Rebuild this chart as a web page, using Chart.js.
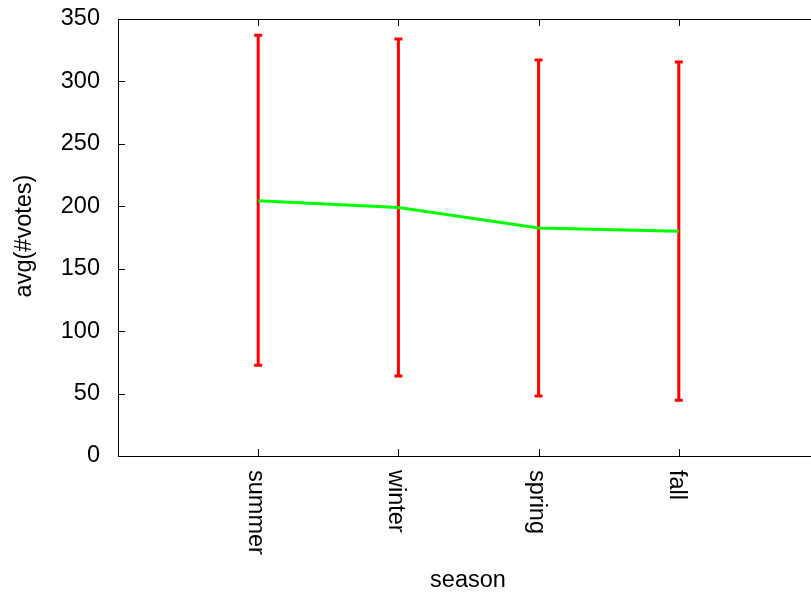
<!DOCTYPE html>
<html>
<head>
<meta charset="utf-8">
<script src="https://cdn.jsdelivr.net/npm/chart.js@4/dist/chart.umd.min.js"></script>
<style>
  html, body { margin: 0; padding: 0; background: #fff; overflow: hidden; }
  #wrap { width: 830px; height: 594px; }
</style>
</head>
<body>
<div id="wrap"><canvas id="votesChart" width="830" height="594"></canvas></div>
<script>
// average votes per season, with the spread shown as error bars
const seasons = ["summer", "winter", "spring", "fall"];
const avgVotes = [204.4, 199.1, 182.7, 180.1];
const votesLow = [72.7, 64.1, 48.1, 44.6];
const votesHigh = [336.9, 334.0, 317.1, 315.5];
const yTicks = [0, 50, 100, 150, 200, 250, 300, 350];

const FONT = '"Liberation Sans", Arial, Helvetica, sans-serif';
const FONT_SIZE = 23.5;

// red vertical bars with small caps, drawn under the mean line
const errorBars = {
  id: "errorBars",
  beforeDatasetsDraw(chart) {
    const { ctx, scales: { x, y } } = chart;
    ctx.save();
    ctx.strokeStyle = "#ff0000";
    ctx.lineWidth = 3;
    seasons.forEach((s, i) => {
      const px = x.getPixelForValue(i + 1);
      const lo = y.getPixelForValue(votesLow[i]);
      const hi = y.getPixelForValue(votesHigh[i]);
      ctx.beginPath();
      ctx.moveTo(px, lo);
      ctx.lineTo(px, hi);
      ctx.moveTo(px - 4, lo);
      ctx.lineTo(px + 4, lo);
      ctx.moveTo(px - 4, hi);
      ctx.lineTo(px + 4, hi);
      ctx.stroke();
    });
    ctx.restore();
  },
};

// box border, inward ticks, x labels and axis titles
const frame = {
  id: "frame",
  afterDraw(chart) {
    const { ctx, chartArea: a, scales: { x, y } } = chart;
    ctx.save();
    ctx.strokeStyle = "#000";
    ctx.lineWidth = 1;
    ctx.strokeRect(a.left + 0.5, a.top + 0.5, a.right - a.left, a.bottom - a.top);

    ctx.beginPath();
    yTicks.forEach((v) => {
      const py = Math.round(y.getPixelForValue(v)) + 0.5;
      ctx.moveTo(a.left, py);
      ctx.lineTo(a.left + 7, py);
      ctx.moveTo(a.right, py);
      ctx.lineTo(a.right - 7, py);
    });
    seasons.forEach((s, i) => {
      const px = Math.round(x.getPixelForValue(i + 1)) + 0.5;
      ctx.moveTo(px, a.bottom);
      ctx.lineTo(px, a.bottom - 7);
      ctx.moveTo(px, a.top);
      ctx.lineTo(px, a.top + 7);
    });
    ctx.stroke();

    ctx.fillStyle = "#000";
    ctx.font = FONT_SIZE + "px " + FONT;
    ctx.textBaseline = "alphabetic";
    ctx.textAlign = "left";
    seasons.forEach((s, i) => {
      const px = x.getPixelForValue(i + 1);
      ctx.save();
      ctx.translate(px, a.bottom + 14);
      ctx.rotate(Math.PI / 2);
      ctx.fillText(s, 0, 9);
      ctx.restore();
    });

    ctx.textAlign = "center";
    ctx.fillText("season", 468, 587);
    ctx.save();
    ctx.translate(31, 236);
    ctx.rotate(-Math.PI / 2);
    ctx.fillText("avg(#votes)", 0, 0);
    ctx.restore();
    ctx.restore();
  },
};

new Chart(document.getElementById("votesChart"), {
  type: "line",
  data: {
    datasets: [
      {
        label: "avg(#votes)",
        data: seasons.map((s, i) => ({ x: i + 1, y: avgVotes[i] })),
        borderColor: "#00ff00",
        borderWidth: 3,
        pointRadius: 0,
        tension: 0,
        fill: false,
      },
    ],
  },
  options: {
    responsive: false,
    animation: false,
    layout: { padding: { left: 0, top: 19, right: 11, bottom: 138 } },
    plugins: { legend: { display: false }, tooltip: { enabled: false } },
    scales: {
      x: {
        type: "linear",
        min: 0,
        max: 5,
        display: false,
      },
      y: {
        min: 0,
        max: 350,
        grid: { display: false },
        border: { display: false },
        ticks: {
          stepSize: 50,
          padding: 10,
          color: "#000",
          font: { family: FONT, size: FONT_SIZE },
        },
        afterFit(scale) {
          scale.width = 118;
          scale.paddingTop = 0;
          scale.paddingBottom = 0;
        },
      },
    },
  },
  plugins: [errorBars, frame],
});
</script>
</body>
</html>
